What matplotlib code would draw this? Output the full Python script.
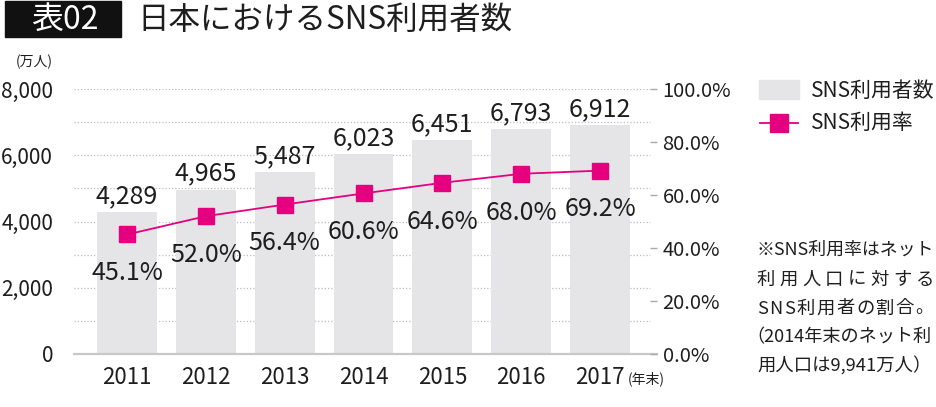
import matplotlib
matplotlib.use('Agg')
import matplotlib.pyplot as plt
from matplotlib.patches import Rectangle
from matplotlib.lines import Line2D
import numpy as np

# ---- data ----
years = ['2011', '2012', '2013', '2014', '2015', '2016', '2017']
users = [4289, 4965, 5487, 6023, 6451, 6793, 6912]          # 万人
rate = [45.1, 52.0, 56.4, 60.6, 64.6, 68.0, 69.2]           # %
left_ticks = [0, 2000, 4000, 6000, 8000]
right_ticks = [0, 20, 40, 60, 80, 100]
title_tag = '表02'
title = '日本におけるSNS利用者数'
legend_labels = ['SNS利用者数', 'SNS利用率']
note_lines = ['※SNS利用率はネット', '利用人口に対する', 'SNS利用者の割合。',
              '（2014年末のネット利', '用人口は9,941万人）']

plt.rcParams['font.family'] = ['Noto Sans CJK JP', 'DejaVu Sans']
TXT = '#1e1e1e'
BAR = '#e5e5e7'
MAG = '#e4007f'
GRID = '#bdbdbd'

W, H = 937, 407
fig = plt.figure(figsize=(W / 100, H / 100), dpi=100)


def fx(x):
    return x / W


def fy(y):
    return 1 - y / H


ax = fig.add_axes([fx(74), fy(354), (657 - 74) / W, 265 / H])
x = np.arange(len(years))
ax.bar(x, users, width=0.76, color=BAR, zorder=2)
ax.set_xlim(-0.673, 6.723)
ax.set_ylim(0, 8000)
for g in range(1000, 8001, 1000):
    ax.axhline(g, xmin=0, xmax=0.988, color=GRID, lw=0.9, ls=(0, (1, 1.6)), zorder=1)
for s in ['top', 'right', 'left']:
    ax.spines[s].set_visible(False)
ax.spines['bottom'].set_color('#c8c8c8')
ax.spines['bottom'].set_linewidth(1.6)
ax.set_yticks(left_ticks)
ax.set_yticklabels([f'{v:,}' for v in left_ticks])
ax.tick_params(axis='y', length=0, pad=15, labelsize=15, colors=TXT)
ax.set_xticks(x)
ax.set_xticklabels(years)
ax.tick_params(axis='x', length=0, pad=9, labelsize=16, colors=TXT)

for xi, v in zip(x, users):
    ax.annotate(f'{v:,}', (xi, v), xytext=(0, 6.5), textcoords='offset points',
                ha='center', va='baseline', fontsize=18, color=TXT)

ax2 = ax.twinx()
ax2.set_ylim(0, 100)
ax2.set_yticks(right_ticks)
ax2.set_yticklabels([f'{v:.1f}%' for v in right_ticks])
ax2.tick_params(axis='y', direction='in', length=5, width=1, color='#aaaaaa',
                pad=4, labelsize=14.5, labelcolor=TXT)
for s in ax2.spines.values():
    s.set_visible(False)
ax2.plot(x, rate, color=MAG, lw=1.3, marker='s', ms=12, zorder=3)
for xi, r in zip(x, rate):
    ax2.annotate(f'{r:.1f}%', (xi, r), xytext=(0, -33), textcoords='offset points',
                 ha='center', va='baseline', fontsize=18, color=TXT)

# unit labels
fig.text(fx(53), fy(62), '(万人)', ha='right', va='center', fontsize=10, color=TXT)
fig.text(fx(628), fy(379), '(年末)', ha='left', va='center', fontsize=10, color=TXT)

# title
fig.add_artist(Rectangle((fx(5), fy(37)), (121 - 5) / W, 36 / H,
                         transform=fig.transFigure, color='#111111'))
fig.text(fx(65), fy(20), title_tag, color='white', ha='center', va='center', fontsize=23)
fig.text(fx(137), fy(20), title, ha='left', va='center', fontsize=22.7, color=TXT)

# legend
fig.add_artist(Rectangle((fx(759), fy(99)), 40 / W, 19 / H,
                         transform=fig.transFigure, color=BAR))
fig.add_artist(Line2D([fx(760), fx(798)], [fy(123), fy(123)], transform=fig.transFigure,
                      color=MAG, lw=1.3))
fig.add_artist(Line2D([fx(779.5)], [fy(123)], transform=fig.transFigure,
                      color=MAG, marker='s', ms=13.5, lw=0))
fig.text(fx(811), fy(91), legend_labels[0], ha='left', va='center', fontsize=15, color=TXT)
fig.text(fx(811), fy(123), legend_labels[1], ha='left', va='center', fontsize=15, color=TXT)

# note
renderer = fig.canvas.get_renderer()
baselines = [255, 284.5, 313.5, 342.5, 371.5]
starts = [757, 757, 757, 746, 757]
sizes = [12.9, 13.2, 13.2, 13.1, 13.2]


def justify(s, x0, x1, yb, fs):
    ts = [fig.text(0, 0, c, fontsize=fs, color=TXT, va='baseline', ha='left') for c in s]
    ws = [t.get_window_extent(renderer).width for t in ts]
    gap = (x1 - x0 - sum(ws)) / (len(s) - 1)
    cx = x0
    for t, w in zip(ts, ws):
        t.set_position((fx(cx), fy(yb)))
        cx += w + gap


for i, (line, yb, xs, fs) in enumerate(zip(note_lines, baselines, starts, sizes)):
    if i in (1, 2):
        justify(line, xs, 934, yb, fs)
    else:
        fig.text(fx(xs), fy(yb), line, ha='left', va='baseline', fontsize=fs, color=TXT)

fig.savefig('out.png', dpi=100)
